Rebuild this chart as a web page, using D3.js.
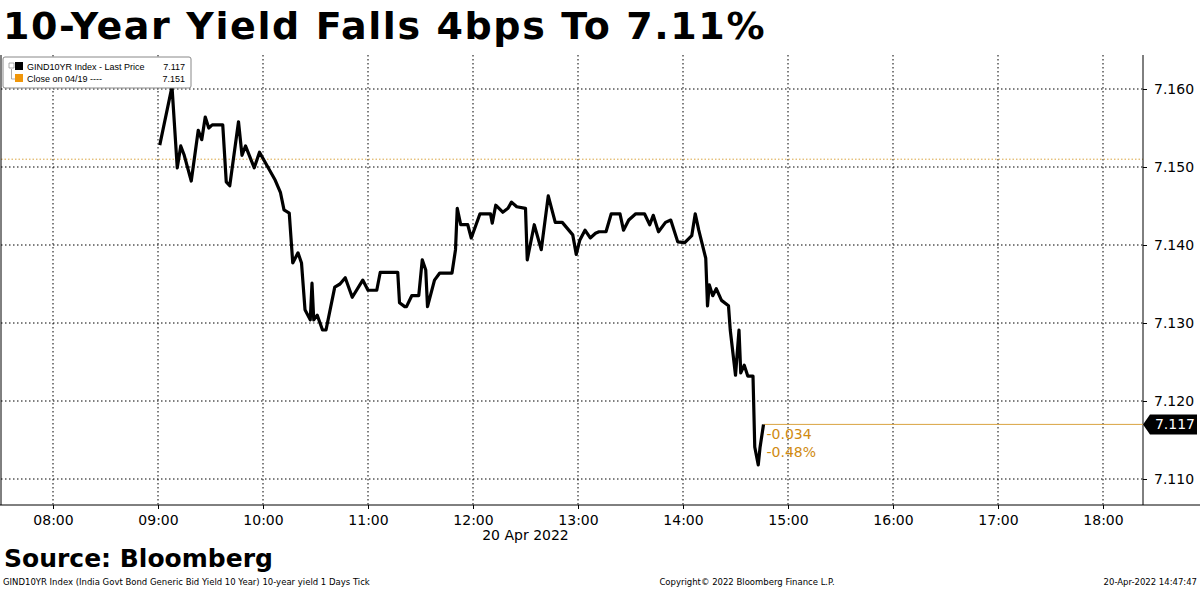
<!DOCTYPE html>
<html><head><meta charset="utf-8">
<script src="https://cdn.jsdelivr.net/npm/d3@7"></script>
<style>body{margin:0;background:#fff}</style>
</head><body>
<svg id="chart" width="1200" height="589"></svg>
<script>
// minutes since midnight, yield
const times = [541,548,551,553,555,559,563,565,567,569,571,577,579,581,586,588,590,595,598,607,610,612,615,617,620,622,624,627,628,629,631,634,636,641,644,647,651,657,660,665,667,677,678,681,682,685,689,691,693,694,698,701,708,710,711,713,717,719,724,730,731,733,737,740,742,745,750,751,755,759,763,767,771,777,779,781,784,787,790,792,796,799,804,806,809,813,818,821,823,826,830,833,837,841,845,847,849,853,854,855,857,859,862,866,867,870,872,873,875,877,880,881,883,884,886];
const yields = [7.1528,7.1603,7.1499,7.1527,7.1515,7.1482,7.1547,7.1535,7.1564,7.1550,7.1554,7.1554,7.1481,7.1476,7.1558,7.1515,7.1527,7.1499,7.1519,7.1483,7.1467,7.1445,7.1441,7.1377,7.1390,7.1377,7.1317,7.1304,7.1351,7.1304,7.1310,7.1291,7.1291,7.1346,7.1350,7.1358,7.1333,7.1355,7.1342,7.1342,7.1365,7.1365,7.1326,7.1321,7.1321,7.1335,7.1335,7.1381,7.1368,7.1321,7.1355,7.1364,7.1364,7.1394,7.1447,7.1426,7.1426,7.1409,7.1440,7.1440,7.1428,7.1451,7.1442,7.1447,7.1455,7.1449,7.1447,7.1381,7.1426,7.1394,7.1463,7.1429,7.1429,7.1413,7.1388,7.1406,7.1419,7.1409,7.1415,7.1417,7.1417,7.1440,7.1440,7.1419,7.1432,7.1440,7.1440,7.1426,7.1438,7.1417,7.1429,7.1432,7.1404,7.1403,7.1412,7.1440,7.1419,7.1383,7.1322,7.1349,7.1335,7.1344,7.1329,7.1322,7.1291,7.1233,7.1291,7.1236,7.1246,7.1232,7.1232,7.1141,7.1118,7.1140,7.117];
const xTicks = ["08:00","09:00","10:00","11:00","12:00","13:00","14:00","15:00","16:00","17:00","18:00"];
const yTicks = [7.110,7.120,7.130,7.140,7.150,7.160];
const prevClose = 7.151, last = 7.117;

const svg = d3.select('#chart');
const L = 1, R = 1143, T = 55, B = 505;
const x = d3.scaleLinear().domain([480 - 53/1.75, 480 + (R-53)/1.75]).range([0, R]);
const y = d3.scaleLinear().domain([7.16 + (89-T)/7800, 7.16 - (B-89)/7800]).range([T, B]);

svg.append('text').attr('x', 3).attr('y', 39)
  .style('font', 'bold 38px "DejaVu Sans"').style('letter-spacing', '1.6px').text('10-Year Yield Falls 4bps To 7.11%');

// grid
const g = svg.append('g');
g.selectAll('.vg').data(xTicks).enter().append('line')
  .attr('x1', d => x(+d.slice(0,2)*60)).attr('x2', d => x(+d.slice(0,2)*60))
  .attr('y1', T).attr('y2', B).attr('stroke', '#000').attr('stroke-dasharray', '1.5,2.5');
g.selectAll('.hg').data(yTicks).enter().append('line')
  .attr('x1', L).attr('x2', R).attr('y1', d => y(d)).attr('y2', d => y(d))
  .attr('stroke', '#000').attr('stroke-dasharray', '1.5,2.5');

// previous close
g.append('line').attr('x1', L).attr('x2', R).attr('y1', y(prevClose)).attr('y2', y(prevClose))
  .attr('stroke', '#d9a441').attr('stroke-dasharray', '1.5,2');

// frame
svg.append('line').attr('x1', L).attr('x2', L).attr('y1', T).attr('y2', B).attr('stroke', '#000');
svg.append('line').attr('x1', R).attr('x2', R).attr('y1', T).attr('y2', B).attr('stroke', '#000');
svg.append('line').attr('x1', 0).attr('x2', 1200).attr('y1', B).attr('y2', B).attr('stroke', '#000');

// right axis
const ya = svg.append('g').attr('transform', `translate(${R},0)`)
  .call(d3.axisRight(y).tickValues(yTicks).tickFormat(d3.format('.3f')).tickSize(4));
ya.select('.domain').remove();
ya.selectAll('text').style('font', '14px "DejaVu Sans"').attr('dx', 4);

// bottom axis
const xa = svg.append('g').attr('transform', `translate(0,${B})`)
  .call(d3.axisBottom(x).tickValues(xTicks.map(d => +d.slice(0,2)*60)).tickFormat((d,i) => xTicks[i]).tickSize(4));
xa.select('.domain').remove();
xa.selectAll('text').style('font', '14px "DejaVu Sans"').attr('dy', '0.9em');
svg.append('text').attr('x', x(12.5*60)).attr('y', 540).attr('text-anchor', 'middle')
  .style('font', '14px "DejaVu Sans"').text('20 Apr 2022');

// last price line
svg.append('line').attr('x1', x(times[times.length-1])).attr('x2', R)
  .attr('y1', y(last)).attr('y2', y(last)).attr('stroke', '#d9a441');

// series
const pts = times.map((t, i) => [t, yields[i]]);
svg.append('path').datum(pts)
  .attr('d', d3.line().x(d => x(d[0])).y(d => y(d[1])))
  .attr('fill', 'none').attr('stroke', '#000').attr('stroke-width', 3.2).attr('stroke-linejoin', 'round');

// change labels
svg.append('text').attr('x', x(times[times.length-1]) + 3).attr('y', y(last) + 15)
  .style('font', '14px "DejaVu Sans"').attr('fill', '#d08a10').text('-0.034');
svg.append('text').attr('x', x(times[times.length-1]) + 3).attr('y', y(last) + 33)
  .style('font', '14px "DejaVu Sans"').attr('fill', '#d08a10').text('-0.48%');

// last price tag
const ly = y(last);
svg.append('path').attr('d', `M${R},${ly} L${R+7},${ly-10} L1197,${ly-10} L1197,${ly+10} L${R+7},${ly+10} Z`).attr('fill', '#000');
svg.append('text').attr('x', 1195).attr('y', ly + 5).attr('text-anchor', 'end')
  .style('font', '14px "DejaVu Sans"').attr('fill', '#fff').text(last.toFixed(3));

// legend
const lg = svg.append('g');
lg.append('rect').attr('x', 3).attr('y', 57).attr('width', 188).attr('height', 31).attr('rx', 2)
  .attr('fill', '#fff').attr('stroke', '#888');
lg.append('rect').attr('x', 15).attr('y', 62).attr('width', 8).attr('height', 8).attr('fill', '#000');
lg.append('rect').attr('x', 15).attr('y', 74).attr('width', 8).attr('height', 8).attr('fill', '#f0960a');
lg.append('path').attr('d', 'M9,63h5v5h-5z M11.5,69V79H15').attr('fill', 'none').attr('stroke', '#888').attr('stroke-width', 0.7);
const lf = '9px "Liberation Sans"';
lg.append('text').attr('x', 27).attr('y', 70).style('font', lf).text('GIND10YR Index - Last Price');
lg.append('text').attr('x', 27).attr('y', 82).style('font', lf).text('Close on 04/19 ----');
lg.append('text').attr('x', 185).attr('y', 70).attr('text-anchor', 'end').style('font', lf).text('7.117');
lg.append('text').attr('x', 185).attr('y', 82).attr('text-anchor', 'end').style('font', lf).text('7.151');

// footer
svg.append('text').attr('x', 4).attr('y', 567).style('font', 'bold 25px "DejaVu Sans"').text('Source: Bloomberg');
const ff = '8.5px "DejaVu Sans"';
svg.append('text').attr('x', 3).attr('y', 585).style('font', ff).text('GIND10YR Index (India Govt Bond Generic Bid Yield 10 Year) 10-year yield 1 Days  Tick');
svg.append('text').attr('x', 747).attr('y', 585).attr('text-anchor', 'middle').style('font', ff).text('Copyright© 2022 Bloomberg Finance L.P.');
svg.append('text').attr('x', 1197).attr('y', 585).attr('text-anchor', 'end').style('font', ff).text('20-Apr-2022 14:47:47');
</script>
</body></html>
